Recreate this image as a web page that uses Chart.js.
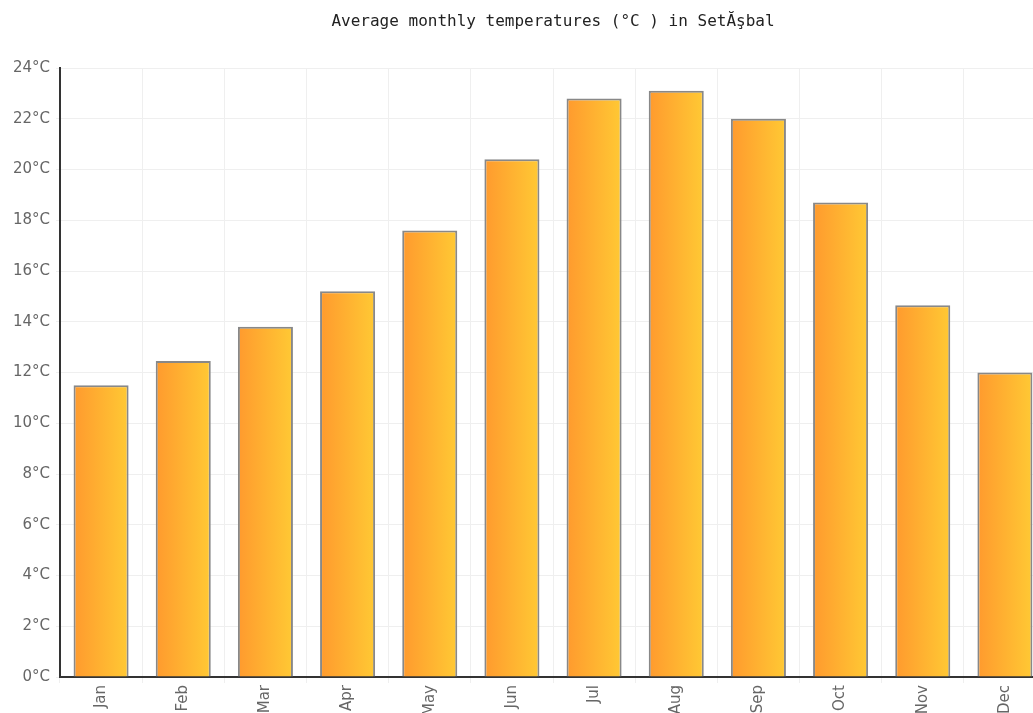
<!DOCTYPE html>
<html>
<head>
<meta charset="utf-8">
<script src="https://cdn.jsdelivr.net/npm/chart.js@4/dist/chart.umd.min.js"></script>
<style>
  html, body { margin: 0; padding: 0; background: #fff; overflow: hidden; }
  #wrap { width: 1033px; height: 713px; overflow: hidden; }
  #box { width: 1046px; height: 722px; }
</style>
</head>
<body>
<div id="wrap"><div id="box"><canvas id="tempChart"></canvas></div></div>
<script>
const months = ['Jan', 'Feb', 'Mar', 'Apr', 'May', 'Jun', 'Jul', 'Aug', 'Sep', 'Oct', 'Nov', 'Dec'];
const avgTemps = [11.5, 12.45, 13.8, 15.2, 17.6, 20.4, 22.8, 23.1, 22.0, 18.7, 14.65, 12.0];
const yTicks = [0, 2, 4, 6, 8, 10, 12, 14, 16, 18, 20, 22, 24];
const chartTitle = 'Average monthly temperatures (°C ) in SetĂşbal';

// horizontal orange -> yellow gradient on each bar
const barGradient = {
  id: 'barGradient',
  beforeDatasetsDraw(chart) {
    const c = chart.ctx;
    chart.getDatasetMeta(0).data.forEach(bar => {
      const g = c.createLinearGradient(bar.x - bar.width / 2, 0, bar.x + bar.width / 2, 0);
      g.addColorStop(0, '#ff9a2e');
      g.addColorStop(1, '#ffc934');
      bar.options.backgroundColor = g;
    });
  }
};

// title centred over the plot area, not the canvas
const plotTitle = {
  id: 'plotTitle',
  afterDraw(chart) {
    const c = chart.ctx;
    const a = chart.chartArea;
    c.save();
    c.font = '16px "DejaVu Sans Mono"';
    c.fillStyle = '#222';
    c.textAlign = 'center';
    c.textBaseline = 'middle';
    c.fillText(chartTitle, (a.left + a.right) / 2, 22);
    c.restore();
  }
};

const ctx = document.getElementById('tempChart').getContext('2d');
new Chart(ctx, {
  type: 'bar',
  data: {
    labels: months,
    datasets: [{
      data: avgTemps,
      backgroundColor: () => '#ffb030', // scriptable so every bar gets its own options
      borderColor: '#888',
      borderWidth: 2,
      barPercentage: 0.67,
      categoryPercentage: 1
    }]
  },
  options: {
    responsive: true,
    maintainAspectRatio: false,
    animation: false,
    layout: { padding: { top: 68, left: 0, right: 0, bottom: 0 } },
    plugins: {
      legend: { display: false },
      tooltip: { enabled: false },
      title: { display: false }
    },
    scales: {
      x: {
        grid: { color: '#efefef', offset: true, drawTicks: true, tickLength: 6 },
        border: { color: '#333', width: 2 },
        ticks: {
          color: '#666',
          font: { family: 'DejaVu Sans', size: 15 },
          maxRotation: 90,
          minRotation: 90,
          padding: 2
        },
        afterFit(scale) { scale.height = 45; }
      },
      y: {
        min: 0,
        max: 24,
        afterBuildTicks(scale) { scale.ticks = yTicks.map(v => ({ value: v })); },
        grid: { color: '#efefef', tickLength: 4 },
        border: { color: '#333', width: 2 },
        ticks: {
          color: '#666',
          font: { family: 'DejaVu Sans', size: 15 },
          padding: 6,
          callback: v => v + '°C'
        },
        afterFit(scale) { scale.width = 60; }
      }
    }
  },
  plugins: [barGradient, plotTitle]
});
</script>
</body>
</html>
